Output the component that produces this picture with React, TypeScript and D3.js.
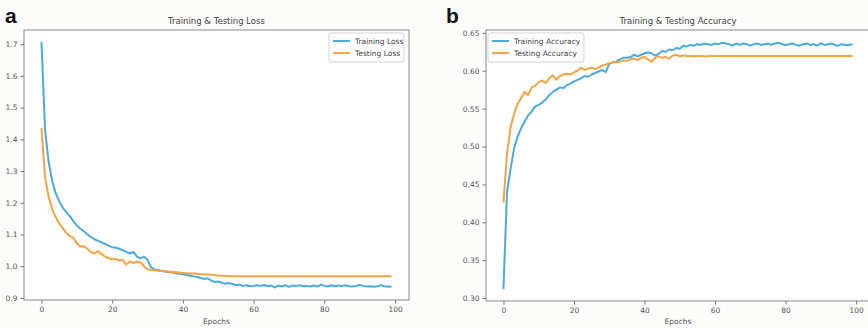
import { useEffect, useRef } from "react";
import * as d3 from "d3";

// Epochs 0..99
const epochs: number[] = Array.from({ length: 100 }, (_, i) => i);

const trainLoss: number[] = [
  1.707, 1.43, 1.33, 1.27, 1.23, 1.205, 1.185, 1.17, 1.158, 1.142,
  1.128, 1.118, 1.11, 1.1, 1.092, 1.085, 1.08, 1.075, 1.07, 1.065,
  1.06, 1.058, 1.055, 1.05, 1.045, 1.04, 1.045, 1.03, 1.025, 1.03,
  1.02, 0.996, 0.99, 0.988, 0.985, 0.983, 0.982, 0.98, 0.978, 0.976,
  0.975, 0.972, 0.97, 0.968, 0.966, 0.963, 0.96, 0.962, 0.955, 0.95,
  0.952, 0.948, 0.945, 0.947, 0.944, 0.94, 0.942, 0.938, 0.94, 0.937,
  0.938, 0.94, 0.938, 0.941, 0.937, 0.939, 0.933, 0.939, 0.936, 0.94,
  0.935, 0.939, 0.938, 0.94, 0.937, 0.938, 0.936, 0.939, 0.936, 0.942,
  0.938, 0.936, 0.94, 0.937, 0.939, 0.938, 0.94, 0.937, 0.936, 0.938,
  0.941, 0.938, 0.936, 0.937, 0.935, 0.937, 0.94, 0.937, 0.935, 0.936,
];

const testLoss: number[] = [
  1.436, 1.28, 1.22, 1.18, 1.155, 1.135, 1.12, 1.105, 1.095, 1.09,
  1.072, 1.062, 1.063, 1.055, 1.045, 1.04, 1.048, 1.038, 1.03, 1.025,
  1.022, 1.023, 1.018, 1.02, 1.005, 1.015, 1.01, 1.015, 1.012, 1.0,
  0.99, 0.988, 0.987, 0.986, 0.985, 0.984, 0.983, 0.982, 0.981, 0.98,
  0.979, 0.978, 0.977, 0.977, 0.976, 0.975, 0.975, 0.974, 0.973, 0.972,
  0.971, 0.97, 0.97, 0.969, 0.969, 0.968, 0.968, 0.968, 0.968, 0.968,
  0.968, 0.968, 0.968, 0.968, 0.968, 0.968, 0.968, 0.968, 0.968, 0.968,
  0.968, 0.968, 0.968, 0.968, 0.968, 0.968, 0.968, 0.968, 0.968, 0.968,
  0.968, 0.968, 0.968, 0.968, 0.968, 0.968, 0.968, 0.968, 0.968, 0.968,
  0.968, 0.968, 0.968, 0.968, 0.968, 0.968, 0.968, 0.968, 0.968, 0.968,
];

const trainAcc: number[] = [
  0.312, 0.44, 0.47, 0.497, 0.513, 0.524, 0.533, 0.541, 0.546, 0.553,
  0.555, 0.558, 0.562, 0.568, 0.572, 0.575, 0.578, 0.577, 0.581, 0.583,
  0.586, 0.588, 0.59, 0.593, 0.592, 0.595, 0.597, 0.599, 0.601, 0.598,
  0.609, 0.611, 0.612, 0.615, 0.617, 0.617, 0.618, 0.621, 0.619, 0.621,
  0.623, 0.624, 0.623, 0.62, 0.622, 0.626, 0.625, 0.628, 0.627, 0.63,
  0.629, 0.633, 0.632, 0.634, 0.633, 0.635, 0.634, 0.636, 0.635, 0.634,
  0.636, 0.635, 0.637, 0.636, 0.635, 0.633, 0.636, 0.634, 0.636, 0.635,
  0.633, 0.635, 0.636, 0.634, 0.635, 0.636, 0.634, 0.636, 0.637, 0.635,
  0.634, 0.635, 0.636, 0.634, 0.633, 0.635, 0.636, 0.634, 0.635, 0.633,
  0.636, 0.634, 0.635, 0.636, 0.634, 0.633, 0.635, 0.634, 0.634, 0.635,
];

const testAcc: number[] = [
  0.426, 0.49, 0.525, 0.543, 0.556, 0.564, 0.572, 0.568, 0.578, 0.58,
  0.585, 0.587, 0.584, 0.59, 0.594, 0.588, 0.593, 0.595, 0.596, 0.595,
  0.598, 0.6, 0.604, 0.601, 0.603, 0.604, 0.602, 0.604, 0.607, 0.608,
  0.61, 0.611, 0.611, 0.612, 0.613, 0.613, 0.615, 0.616, 0.614, 0.617,
  0.618, 0.615, 0.612, 0.617, 0.619, 0.617, 0.618, 0.616, 0.62, 0.621,
  0.619, 0.62, 0.6195, 0.6195, 0.619, 0.6195, 0.6195, 0.619, 0.619, 0.6195,
  0.6195, 0.6195, 0.6195, 0.6195, 0.6195, 0.6195, 0.6195, 0.6195, 0.6195, 0.6195,
  0.6195, 0.6195, 0.6195, 0.6195, 0.6195, 0.6195, 0.6195, 0.6195, 0.6195, 0.6195,
  0.6195, 0.6195, 0.6195, 0.6195, 0.6195, 0.6195, 0.6195, 0.6195, 0.6195, 0.6195,
  0.6195, 0.6195, 0.6195, 0.6195, 0.6195, 0.6195, 0.6195, 0.6195, 0.6195, 0.6195,
];

const xTicks: number[] = [0, 20, 40, 60, 80, 100];
const lossTicks: number[] = [0.9, 1.0, 1.1, 1.2, 1.3, 1.4, 1.5, 1.6, 1.7];
const accTicks: number[] = [0.3, 0.35, 0.4, 0.45, 0.5, 0.55, 0.6, 0.65];

const BLUE = "#4daadd";
const ORANGE = "#f3a445";
const FONT = "DejaVu Sans, sans-serif";

const App = () => {
  const ref = useRef<SVGSVGElement | null>(null);

  useEffect(() => {
    if (!ref.current) return;
    const svg = d3.select(ref.current);
    svg.selectAll("*").remove();

    svg.append("rect").attr("width", 868).attr("height", 328).attr("fill", "#fcfcfb");

    // dibuja un panel
    const panel = (opts: any) => {
      const { left, right, top, bottom, yDomain, yTicks, fmt, title, letter, letterX, series, legend } = opts;
      const x = d3.scaleLinear().domain([-4.95, 103.95]).range([left, right]);
      const y = d3.scaleLinear().domain(yDomain).range([bottom, top]);
      const g = svg.append("g");

      g.append("rect")
        .attr("x", left).attr("y", top)
        .attr("width", right - left).attr("height", bottom - top)
        .attr("fill", "#fefefe")
        .attr("stroke", "#8a8a8a").attr("stroke-width", 1);

      const xa = g.append("g")
        .attr("transform", `translate(0,${bottom})`)
        .call(d3.axisBottom(x).tickValues(xTicks).tickSize(3.5).tickPadding(3).tickFormat(d3.format("d")));
      const ya = g.append("g")
        .attr("transform", `translate(${left},0)`)
        .call(d3.axisLeft(y).tickValues(yTicks).tickSize(3.5).tickPadding(3).tickFormat(d3.format(fmt)));
      [xa, ya].forEach((a) => {
        a.select(".domain").remove();
        a.selectAll("line").attr("stroke", "#777");
        a.selectAll("text").style("font-family", FONT).style("font-size", "7.5px").attr("fill", "#555");
      });

      const line = d3.line<number>().x((_, i) => x(epochs[i])).y((d) => y(d));
      series.forEach((s: any) => {
        g.append("path")
          .datum(s.values)
          .attr("d", line)
          .attr("fill", "none")
          .attr("stroke", s.color)
          .attr("stroke-width", 2)
          .attr("stroke-linejoin", "round");
      });

      g.append("text")
        .attr("x", (left + right) / 2).attr("y", 24)
        .attr("text-anchor", "middle")
        .style("font-family", FONT).style("font-size", "8.5px").attr("fill", "#444")
        .text(title);

      g.append("text")
        .attr("x", (left + right) / 2).attr("y", 324)
        .attr("text-anchor", "middle")
        .style("font-family", FONT).style("font-size", "7.5px").attr("fill", "#555")
        .text("Epochs");

      g.append("text")
        .attr("x", letterX).attr("y", 23)
        .style("font-family", "Liberation Sans, Arial, sans-serif")
        .style("font-size", "21px").style("font-weight", "700").attr("fill", "#111")
        .text(letter);

      // leyenda
      const lg = g.append("g");
      lg.append("rect")
        .attr("x", legend.x).attr("y", 33)
        .attr("width", legend.w).attr("height", 29).attr("rx", 2)
        .attr("fill", "#fefefe").attr("stroke", "#d5d5d5");
      series.forEach((s: any, i: number) => {
        const yy = 41 + i * 12;
        lg.append("line")
          .attr("x1", legend.x + 4).attr("x2", legend.x + 21)
          .attr("y1", yy).attr("y2", yy)
          .attr("stroke", s.color).attr("stroke-width", 2);
        lg.append("text")
          .attr("x", legend.x + 26).attr("y", yy + 2.7)
          .style("font-family", FONT).style("font-size", "7.5px").attr("fill", "#444")
          .text(s.name);
      });
    };

    panel({
      left: 24, right: 409, top: 30, bottom: 300,
      yDomain: [0.8935, 1.7445], yTicks: lossTicks, fmt: ".1f",
      title: "Training & Testing Loss", letter: "a", letterX: 5,
      series: [
        { name: "Training Loss", values: trainLoss, color: BLUE },
        { name: "Testing Loss", values: testLoss, color: ORANGE },
      ],
      legend: { x: 329, w: 75 },
    });

    panel({
      left: 486, right: 870, top: 30, bottom: 301,
      yDomain: [0.2962, 0.6537], yTicks: accTicks, fmt: ".2f",
      title: "Training & Testing Accuracy", letter: "b", letterX: 446,
      series: [
        { name: "Training Accuracy", values: trainAcc, color: BLUE },
        { name: "Testing Accuracy", values: testAcc, color: ORANGE },
      ],
      legend: { x: 488, w: 96 },
    });
  }, []);

  return (
    <svg
      ref={ref}
      width={868}
      height={328}
      style={{ position: "absolute", left: 0, top: 0, display: "block" }}
    />
  );
};

export default App;
